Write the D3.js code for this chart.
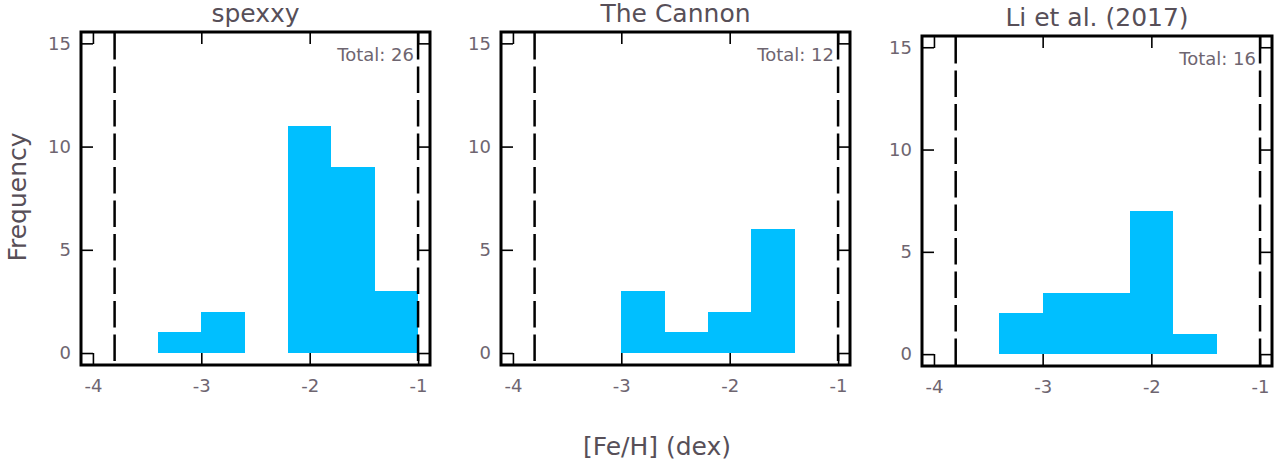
<!DOCTYPE html>
<html>
<head>
<meta charset="utf-8">
<script src="https://cdn.jsdelivr.net/npm/d3@7"></script>
<style>
  body { margin: 0; background: #fff; }
  text { font-family: "DejaVu Sans", sans-serif; }
</style>
</head>
<body>
<svg id="chart" width="1279" height="466"></svg>
<script>
// bins are 0.4 dex wide, listed by left edge
const binEdges = [-3.4, -3.0, -2.6, -2.2, -1.8, -1.4];
const binWidth = 0.4;

const titles = ['spexxy', 'The Cannon', 'Li et al. (2017)'];
const spexxyCounts = [1, 2, 0, 11, 9, 3];
const cannonCounts = [0, 3, 1, 2, 6, 0];
const liCounts     = [2, 3, 3, 7, 1, 0];
const allCounts = [spexxyCounts, cannonCounts, liCounts];

const limitLines = [-3.8, -1.0];
const xTicks = [-4, -3, -2, -1];
const yTicks = [0, 5, 10, 15];

// panel frames
const panels = [
    {x0: 81,  x1: 430,  y0: 32, y1: 365},
    {x0: 501, x1: 850,  y0: 32, y1: 365},
    {x0: 922, x1: 1272, y0: 36, y1: 366}
];

const textColor = '#574f58';
const tickColor = '#6e6570';
const barColor = '#00bfff';

const svg = d3.select('#chart');

panels.forEach((p, i) => {
    let counts = allCounts[i];
    let xScale = d3.scaleLinear().domain([-4.11, -0.89]).range([p.x0, p.x1]);
    let yScale = d3.scaleLinear().domain([-0.58, 15.55]).range([p.y1, p.y0]);
    let g = svg.append('g');

    let bins = binEdges.map((e, k) => ({lo: e, hi: e + binWidth, n: counts[k]}))
        .filter(d => d.n > 0);

    g.selectAll('rect.bar')
        .data(bins)
        .enter()
        .append('rect')
        .attr('class', 'bar')
        .attr('x', d => xScale(d.lo))
        .attr('width', d => xScale(d.hi) - xScale(d.lo))
        .attr('y', d => yScale(d.n))
        .attr('height', d => yScale(0) - yScale(d.n))
        .attr('fill', barColor)
        .attr('shape-rendering', 'crispEdges');

    g.selectAll('line.limit')
        .data(limitLines)
        .enter()
        .append('line')
        .attr('class', 'limit')
        .attr('x1', d => xScale(d)).attr('x2', d => xScale(d))
        .attr('y1', p.y0 + 1).attr('y2', p.y1)
        .attr('stroke', '#000')
        .attr('stroke-width', 2.5)
        .attr('stroke-dasharray', '26.5,7');

    // inward ticks on all four sides
    let bottom = g.append('g')
        .attr('transform', `translate(0,${p.y1})`)
        .call(d3.axisBottom(xScale).tickValues(xTicks).tickSize(-12).tickPadding(14)
            .tickFormat(d => String(d)));
    let top = g.append('g')
        .attr('transform', `translate(0,${p.y0})`)
        .call(d3.axisTop(xScale).tickValues(xTicks).tickSize(-12).tickFormat(''));
    let left = g.append('g')
        .attr('transform', `translate(${p.x0},0)`)
        .call(d3.axisLeft(yScale).tickValues(yTicks).tickSize(-12).tickPadding(10)
            .tickFormat(d => String(d)));
    let right = g.append('g')
        .attr('transform', `translate(${p.x1},0)`)
        .call(d3.axisRight(yScale).tickValues(yTicks).tickSize(-12).tickFormat(''));

    [bottom, top, left, right].forEach(a => {
        a.select('.domain').remove();
        a.selectAll('.tick line').attr('stroke', '#000').attr('stroke-width', 1.6);
        a.selectAll('.tick text')
            .attr('fill', tickColor)
            .style('font-size', '18px')
            .style('font-family', '"DejaVu Sans", sans-serif');
    });

    g.append('rect')
        .attr('x', p.x0).attr('y', p.y0)
        .attr('width', p.x1 - p.x0).attr('height', p.y1 - p.y0)
        .attr('fill', 'none')
        .attr('stroke', '#000')
        .attr('stroke-width', 3);

    g.append('text')
        .attr('x', (p.x0 + p.x1) / 2)
        .attr('y', p.y0 - 10)
        .attr('text-anchor', 'middle')
        .attr('fill', textColor)
        .style('font-size', '25px')
        .text(titles[i]);

    g.append('text')
        .attr('x', p.x1 - 16)
        .attr('y', p.y0 + 29)
        .attr('text-anchor', 'end')
        .attr('fill', tickColor)
        .style('font-size', '18px')
        .text('Total: ' + d3.sum(counts));
});

svg.append('text')
    .attr('transform', 'translate(26,197) rotate(-90)')
    .attr('text-anchor', 'middle')
    .attr('fill', textColor)
    .style('font-size', '25px')
    .text('Frequency');

svg.append('text')
    .attr('x', 657)
    .attr('y', 455)
    .attr('text-anchor', 'middle')
    .attr('fill', textColor)
    .style('font-size', '25px')
    .text('[Fe/H] (dex)');
</script>
</body>
</html>
